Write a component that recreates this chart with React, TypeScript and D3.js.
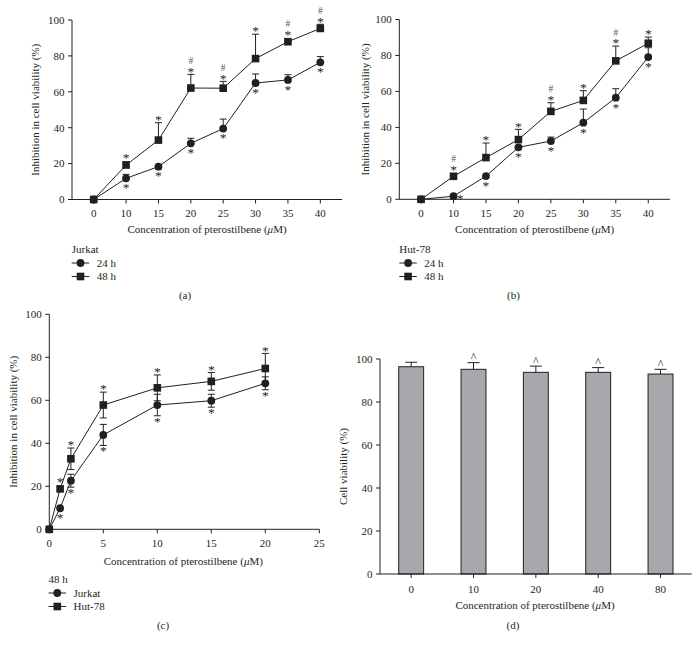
import React from "react";
import * as d3 from "d3";

const FONT = "'Liberation Serif', 'Times New Roman', serif";
const INK = "#231f20";
const BAR_FILL = "#a7a8ac";

// ---------- Panel (a): Jurkat ----------
const dosesAB = ["0", "10", "15", "20", "25", "30", "35", "40"];
const jurkat24 = [0, 11.8, 18.3, 31.3, 39.5, 64.9, 66.6, 76.4];
const jurkat24Sd = [0, 2.2, 0.5, 2.8, 5.3, 5, 2.9, 3.2];
const jurkat24Marks = ["", "*", "*", "*", "*", "*", "*", "*"];
const jurkat48 = [0, 19.2, 33.1, 62.1, 62, 78.5, 87.9, 95.3];
const jurkat48Sd = [0, 1.8, 9.7, 7.6, 3.8, 13.6, 1.2, 2.3];
const jurkat48Marks = ["", "*", "*", "#*", "#*", "*", "#*", "#*"];

// ---------- Panel (b): Hut-78 ----------
const hut24 = [0, 1.7, 12.9, 28.9, 32.4, 42.6, 56.5, 79.1];
const hut24Sd = [0, 0.3, 0.5, 1, 2.2, 7.6, 5, 5.2];
const hut24Marks = ["", "*r", "*", "*", "*", "*", "*", "*"];
const hut48 = [0, 12.8, 23.2, 33.2, 48.9, 55, 77, 86.8];
const hut48Sd = [0, 0.5, 8.1, 5.7, 4.8, 5.4, 8.2, 3.4];
const hut48Marks = ["", "#*", "*", "*", "#*", "*", "#*", "*"];

// ---------- Panel (c): 48 h ----------
const dosesC = [0, 1, 2, 5, 10, 15, 20];
const xTicksC = [0, 5, 10, 15, 20, 25];
const jurkatC = [0, 9.8, 22.6, 43.9, 57.8, 59.8, 67.9];
const jurkatCSd = [0, 0.5, 3, 4.9, 5, 3, 3];
const jurkatCMarks = ["", "*", "*", "*", "*", "*", "*"];
const hutC = [0, 18.8, 32.8, 57.8, 65.8, 68.8, 74.8];
const hutCSd = [0, 0.5, 5, 6, 6, 4.1, 7];
const hutCMarks = ["", "*", "*", "*", "*", "*", "*"];

// ---------- Panel (d): viability ----------
const dosesD = ["0", "10", "20", "40", "80"];
const viability = [96.4, 95.2, 93.8, 93.8, 93];
const viabilitySd = [2.1, 3.1, 2.9, 2.2, 2.2];
const viabilityMarks = ["", "^", "^", "^", "^"];

const yTicks = [0, 20, 40, 60, 80, 100];

type SeriesDef = {
  vals: number[];
  sds: number[];
  shape: "circle" | "square";
  marks: string[];
  below: boolean;
  lower: boolean;
};

const STAR = 13.5;

function Marker({ x, y, shape }: { x: number; y: number; shape: string }) {
  if (shape === "circle") return <circle cx={x} cy={y} r={3.9} fill={INK} />;
  return <rect x={x - 3.8} y={y - 3.8} width={7.6} height={7.6} fill={INK} />;
}

function YAxis({ x, y, label, labelX }: { x: number; y: d3.ScaleLinear<number, number>; label: string; labelX: number }) {
  const mid = (y(0) + y(100)) / 2;
  return (
    <g>
      <line x1={x} x2={x} y1={y(0)} y2={y(100)} stroke={INK} strokeWidth={1} />
      {yTicks.map((t) => (
        <g key={t}>
          <line x1={x - 4} x2={x} y1={y(t)} y2={y(t)} stroke={INK} strokeWidth={1} />
          <text x={x - 7.5} y={y(t)} dy="0.35em" textAnchor="end" fontSize={11} fill={INK}>
            {t}
          </text>
        </g>
      ))}
      <text transform={`translate(${labelX},${mid}) rotate(-90)`} textAnchor="middle" dy="0.35em" fontSize={11} fill={INK}>
        {label}
      </text>
    </g>
  );
}

function XLabel({ x, y }: { x: number; y: number }) {
  return (
    <text x={x} y={y} textAnchor="middle" fontSize={11} fill={INK}>
      Concentration of pterostilbene (<tspan fontStyle="italic">μ</tspan>M)
    </text>
  );
}

function Legend({ x, y, title, names, shapes, textX }: { x: number; y: number; title: string; names: string[]; shapes: string[]; textX: number }) {
  return (
    <g>
      <text x={x} y={y} fontSize={11} fill={INK}>
        {title}
      </text>
      {names.map((n, i) => {
        const yy = y + 13.5 * (i + 1);
        return (
          <g key={n}>
            <line x1={x} x2={x + 17.5} y1={yy - 3.8} y2={yy - 3.8} stroke={INK} strokeWidth={1} />
            <Marker x={x + 8.8} y={yy - 3.8} shape={shapes[i]} />
            <text x={textX} y={yy} fontSize={11} fill={INK}>
              {n}
            </text>
          </g>
        );
      })}
    </g>
  );
}

function SeriesLayer({ xs, y, s }: { xs: number[]; y: d3.ScaleLinear<number, number>; s: SeriesDef }) {
  const line = d3
    .line<number>()
    .x((_, i) => xs[i])
    .y((v) => y(v));
  return (
    <g>
      <path d={line(s.vals) || ""} fill="none" stroke={INK} strokeWidth={1} />
      {s.vals.map((v, i) => {
        const sd = s.sds[i];
        if (sd < 0.8) return null;
        const top = y(v + sd);
        const bot = s.lower ? y(v - sd) : y(v);
        return (
          <g key={"e" + i}>
            <line x1={xs[i]} x2={xs[i]} y1={top} y2={bot} stroke={INK} strokeWidth={1} />
            <line x1={xs[i] - 3.5} x2={xs[i] + 3.5} y1={top} y2={top} stroke={INK} strokeWidth={1} />
            {s.lower && <line x1={xs[i] - 3.5} x2={xs[i] + 3.5} y1={bot} y2={bot} stroke={INK} strokeWidth={1} />}
          </g>
        );
      })}
      {s.vals.map((v, i) => (
        <Marker key={"m" + i} x={xs[i]} y={y(v)} shape={s.shape} />
      ))}
      {s.marks.map((m, i) => {
        if (!m) return null;
        const v = s.vals[i];
        const sd = s.sds[i];
        if (m === "*r") {
          return (
            <text key={"k" + i} x={xs[i] + 6.5} y={y(v) + 6.5} textAnchor="middle" fontSize={STAR} fill={INK}>
              *
            </text>
          );
        }
        if (s.below) {
          const bottom = Math.max(s.lower ? y(v - sd) : y(v), y(v) + 4);
          return (
            <text key={"k" + i} x={xs[i]} y={bottom + 9.8} textAnchor="middle" fontSize={STAR} fill={INK}>
              *
            </text>
          );
        }
        const top = Math.min(y(v + sd), y(v) - 4);
        if (m.includes("#")) {
          return (
            <text key={"k" + i} x={xs[i]} y={top - 10.5} textAnchor="middle" fill={INK}>
              <tspan fontSize={9.5} fill="#555">
                #
              </tspan>
              <tspan x={xs[i]} dy={11.8} fontSize={STAR}>
                *
              </tspan>
            </text>
          );
        }
        return (
          <text key={"k" + i} x={xs[i]} y={top + 1.3} textAnchor="middle" fontSize={STAR} fill={INK}>
            *
          </text>
        );
      })}
    </g>
  );
}

function PointPanel({
  x0,
  x1,
  yTop,
  yBot,
  labelX,
  series,
}: {
  x0: number;
  x1: number;
  yTop: number;
  yBot: number;
  labelX: number;
  series: SeriesDef[];
}) {
  const x = d3.scalePoint<string>().domain(dosesAB).range([x0, x1]).padding(0.67);
  const y = d3.scaleLinear().domain([0, 100]).range([yBot, yTop]);
  const xs = dosesAB.map((d) => x(d) as number);
  return (
    <g>
      <YAxis x={x0} y={y} label="Inhibition in cell viability (%)" labelX={labelX} />
      <line x1={x0} x2={x1} y1={yBot} y2={yBot} stroke={INK} strokeWidth={1} />
      {dosesAB.map((d, i) => (
        <g key={d}>
          <line x1={xs[i]} x2={xs[i]} y1={yBot} y2={yBot + 4} stroke={INK} strokeWidth={1} />
          <text x={xs[i]} y={yBot + 17.5} textAnchor="middle" fontSize={11} fill={INK}>
            {d}
          </text>
        </g>
      ))}
      <XLabel x={(x0 + x1) / 2} y={yBot + 33.5} />
      {series.map((s, i) => (
        <SeriesLayer key={i} xs={xs} y={y} s={s} />
      ))}
    </g>
  );
}

function PanelC() {
  const x0 = 49.3,
    x1 = 319.3,
    yTop = 314.3,
    yBot = 529.3;
  const x = d3.scaleLinear().domain([0, 25]).range([x0, x1]);
  const y = d3.scaleLinear().domain([0, 100]).range([yBot, yTop]);
  const xs = dosesC.map((d) => x(d));
  const series: SeriesDef[] = [
    { vals: jurkatC, sds: jurkatCSd, shape: "circle", marks: jurkatCMarks, below: true, lower: true },
    { vals: hutC, sds: hutCSd, shape: "square", marks: hutCMarks, below: false, lower: true },
  ];
  return (
    <g>
      <YAxis x={x0} y={y} label="Inhibition in cell viability (%)" labelX={13} />
      <line x1={x0} x2={x1} y1={yBot} y2={yBot} stroke={INK} strokeWidth={1} />
      {xTicksC.map((t) => (
        <g key={t}>
          <line x1={x(t)} x2={x(t)} y1={yBot} y2={yBot + 4} stroke={INK} strokeWidth={1} />
          <text x={x(t)} y={yBot + 17.5} textAnchor="middle" fontSize={11} fill={INK}>
            {t}
          </text>
        </g>
      ))}
      <XLabel x={(x0 + x1) / 2 - 1} y={yBot + 35.5} />
      {series.map((s, i) => (
        <SeriesLayer key={i} xs={xs} y={y} s={s} />
      ))}
      <Legend x={48.5} y={583.3} title="48 h" names={["Jurkat", "Hut-78"]} shapes={["circle", "square"]} textX={73.5} />
      <text x={163} y={629.3} textAnchor="middle" fontSize={11} fill={INK}>
        (c)
      </text>
    </g>
  );
}

function PanelD() {
  const x0 = 380,
    x1 = 691.7,
    yTop = 359,
    yBot = 574;
  const x = d3.scaleBand<string>().domain(dosesD).range([x0, x1]).paddingInner(0.6).paddingOuter(0.3);
  const y = d3.scaleLinear().domain([0, 100]).range([yBot, yTop]);
  const bw = x.bandwidth();
  return (
    <g>
      {viability.map((v, i) => {
        const cx = (x(dosesD[i]) as number) + bw / 2;
        const top = y(v + viabilitySd[i]);
        return (
          <g key={i}>
            <line x1={cx} x2={cx} y1={y(v)} y2={top} stroke={INK} strokeWidth={1} />
            <line x1={cx - 6} x2={cx + 6} y1={top} y2={top} stroke={INK} strokeWidth={1} />
            <rect x={x(dosesD[i]) as number} y={y(v)} width={bw} height={yBot - y(v)} fill={BAR_FILL} stroke={INK} strokeWidth={1} />
            {viabilityMarks[i] && (
              <text x={cx} y={top - 1.3} textAnchor="middle" fontSize={12} fill={INK}>
                {viabilityMarks[i]}
              </text>
            )}
          </g>
        );
      })}
      <YAxis x={x0} y={y} label="Cell viability (%)" labelX={343} />
      <line x1={x0} x2={x1} y1={yBot} y2={yBot} stroke={INK} strokeWidth={1} />
      {dosesD.map((d) => {
        const cx = (x(d) as number) + bw / 2;
        return (
          <g key={d}>
            <line x1={cx} x2={cx} y1={yBot} y2={yBot + 4} stroke={INK} strokeWidth={1} />
            <text x={cx} y={yBot + 18.5} textAnchor="middle" fontSize={11} fill={INK}>
              {d}
            </text>
          </g>
        );
      })}
      <XLabel x={535} y={yBot + 35.3} />
      <text x={513} y={629.3} textAnchor="middle" fontSize={11} fill={INK}>
        (d)
      </text>
    </g>
  );
}

export default function App() {
  const seriesA: SeriesDef[] = [
    { vals: jurkat24, sds: jurkat24Sd, shape: "circle", marks: jurkat24Marks, below: true, lower: false },
    { vals: jurkat48, sds: jurkat48Sd, shape: "square", marks: jurkat48Marks, below: false, lower: false },
  ];
  const seriesB: SeriesDef[] = [
    { vals: hut24, sds: hut24Sd, shape: "circle", marks: hut24Marks, below: true, lower: false },
    { vals: hut48, sds: hut48Sd, shape: "square", marks: hut48Marks, below: false, lower: false },
  ];
  return (
    <svg
      width={699}
      height={648}
      viewBox="0 0 699 648"
      style={{ position: "absolute", left: 0, top: 0, background: "#fff" }}
      fontFamily={FONT}
    >
      <rect width={699} height={648} fill="#fff" />
      <PointPanel x0={72} x1={342} yTop={20} yBot={199.5} labelX={35} series={seriesA} />
      <Legend x={71.7} y={253.3} title="Jurkat" names={["24 h", "48 h"]} shapes={["circle", "square"]} textX={96.7} />
      <text x={185} y={299.3} textAnchor="middle" fontSize={11} fill={INK}>
        (a)
      </text>
      <PointPanel x0={399.3} x1={670} yTop={19.5} yBot={199.3} labelX={365} series={seriesB} />
      <Legend x={399.3} y={253.3} title="Hut-78" names={["24 h", "48 h"]} shapes={["circle", "square"]} textX={424.3} />
      <text x={513.5} y={299.3} textAnchor="middle" fontSize={11} fill={INK}>
        (b)
      </text>
      <PanelC />
      <PanelD />
    </svg>
  );
}
